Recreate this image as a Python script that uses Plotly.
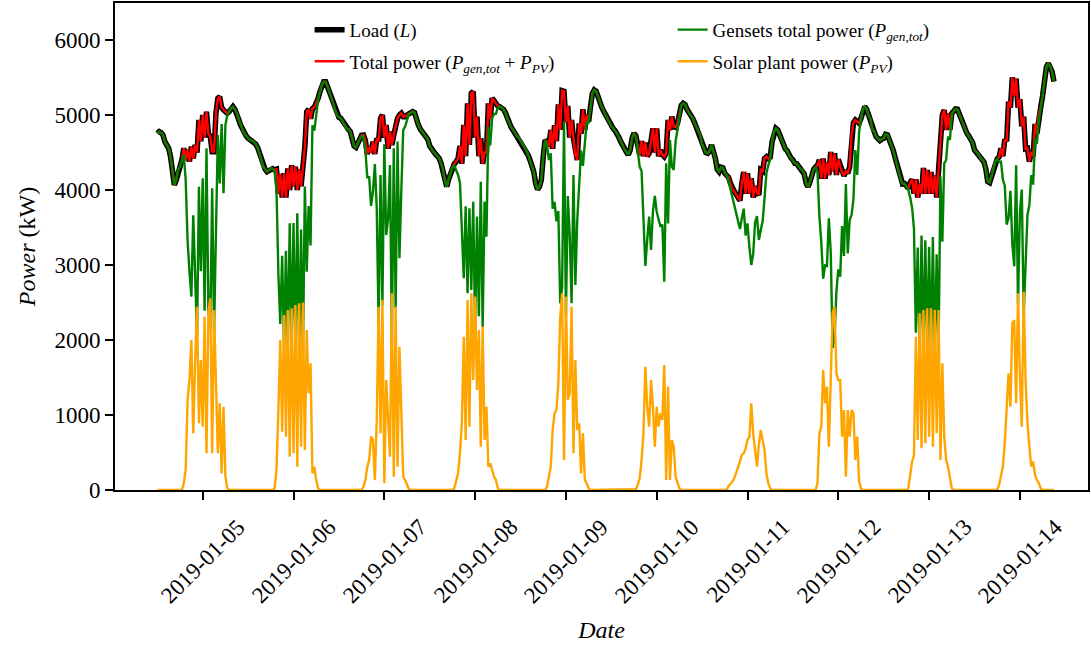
import pandas as pd
import plotly.graph_objects as go

# ---- data (30-minute samples, starting 2019-01-04 12:00) ----
START = "2019-01-04 12:00"
STEP = "30min"

LOAD = [
    4756, 4778, 4765, 4733, 4644, 4600, 4556, 4444, 4267, 4067, 4133, 4267, 4311, 4400, 4556, 4400, 4533, 4380, 4578, 4420, 4600, 4500, 4933, 4650,
    5000, 4700, 5044, 4750, 4711, 4511, 4511, 5022, 5222, 5244, 5100, 5067, 5044, 5022, 5044, 5089, 5111, 5076, 5022, 4942, 4867, 4809, 4756, 4720,
    4689, 4667, 4658, 4644, 4613, 4569, 4489, 4409, 4311, 4276, 4244, 4258, 4289, 4284, 4267, 4276, 3950, 4213, 3900, 4222, 3900, 4289, 4000, 4329,
    4050, 4311, 4000, 4276, 4050, 4311, 4578, 5044, 5076, 4950, 5084, 5102, 5156, 5222, 5311, 5400, 5444, 5444, 5378, 5311, 5222, 5156, 5067, 5000,
    4970, 4956, 4911, 4867, 4822, 4809, 4778, 4689, 4587, 4569, 4631, 4680, 4729, 4733, 4658, 4480, 4569, 4500, 4644, 4480, 4689, 4650, 4956, 5000,
    4700, 4867, 4550, 4778, 4600, 4733, 4867, 4956, 5000, 5022, 4978, 4978, 5000, 5022, 5031, 5044, 5031, 4933, 4867, 4813, 4778, 4747, 4720, 4676,
    4587, 4542, 4507, 4480, 4453, 4422, 4356, 4267, 4133, 4044, 4142, 4231, 4302, 4347, 4378, 4422, 4587, 4350, 4867, 4450, 5156, 4600, 5289, 5311,
    4700, 4978, 4450, 4689, 4350, 4511, 4489, 5156, 4950, 5222, 5191, 5147, 5120, 5111, 5102, 5076, 5031, 4956, 4889, 4840, 4800, 4760, 4720, 4700,
    4660, 4620, 4580, 4530, 4467, 4400, 4320, 4244, 4089, 4009, 4044, 4133, 4444, 4667, 4644, 4578, 4800, 4550, 4862, 4650, 5142, 4800, 5324, 5316,
    4900, 5120, 4700, 4933, 4689, 4467, 4400, 4889, 4750, 5076, 4800, 5000, 4911, 5111, 5289, 5333, 5316, 5244, 5156, 5102, 5049, 4996, 4942, 4889,
    4853, 4818, 4791, 4756, 4702, 4644, 4587, 4542, 4507, 4471, 4533, 4689, 4756, 4720, 4578, 4467, 4653, 4450, 4631, 4450, 4489, 4667, 4822, 4500,
    4822, 4450, 4533, 4471, 4444, 4489, 4933, 4800, 4978, 4844, 4836, 4889, 5022, 5129, 5156, 5138, 5076, 5040, 5005, 4956, 4898, 4831, 4778, 4725,
    4613, 4556, 4498, 4489, 4524, 4600, 4524, 4422, 4276, 4244, 4302, 4293, 4222, 4200, 4169, 4089, 4018, 3982, 3942, 3911, 3858, 4089, 4240, 3950,
    4222, 3950, 4156, 3900, 4053, 3964, 3933, 4267, 4250, 4422, 4444, 4418, 4436, 4644, 4778, 4822, 4800, 4733, 4658, 4613, 4547, 4520, 4462, 4427,
    4400, 4356, 4351, 4320, 4280, 4267, 4213, 4089, 4044, 4107, 4200, 4276, 4307, 4329, 4400, 4150, 4418, 4150, 4364, 4200, 4507, 4250, 4489, 4200,
    4409, 4311, 4231, 4187, 4258, 4222, 4311, 4733, 4898, 4933, 4911, 4889, 4956, 5076, 5111, 5076, 4996, 4942, 4809, 4778, 4711, 4680, 4660, 4680,
    4689, 4742, 4733, 4667, 4609, 4533, 4436, 4333, 4222, 4142, 4080, 4085, 4045, 4022, 4098, 4142, 3950, 4142, 3900, 4080, 3950, 4294, 3950, 4267,
    3950, 4240, 3950, 4196, 3900, 4245, 4578, 5000, 5067, 4800, 5022, 4800, 5022, 5054, 5080, 5076, 5009, 4934, 4880, 4809, 4756, 4720, 4676, 4632,
    4534, 4507, 4480, 4436, 4409, 4374, 4280, 4112, 4098, 4187, 4289, 4378, 4414, 4440, 4556, 4450, 4676, 4650, 5178, 5100, 5502, 5250, 5485, 5100,
    5209, 4850, 4978, 4550, 4556, 4378, 4511, 4450, 4880, 4750, 5014, 5103, 5254, 5489, 5636, 5689, 5645, 5578, 5445,
]

# Solar plant output, daylight hours only (sample index where each day starts, values)
PV_JAN05 = (14, [89, 267, 1200, 1467, 2000, 756, 1733, 2444, 889, 1733, 844, 2311, 489, 2356, 2556, 489, 2400, 1467, 489, 1156, 222, 1111, 178, 22])
PV_JAN06 = (62, [22, 267, 1067, 2000, 778, 2333, 711, 2400, 444, 2422, 489, 2467, 311, 2489, 578, 2498, 533, 2133, 1289, 1689, 222, 311, 133, 22])
PV_JAN07 = (109, [44, 133, 311, 400, 711, 667, 133, 933, 2444, 756, 2533, 89, 1467, 933, 444, 2622, 178, 2444, 311, 1911, 1022, 178, 133, 67, 9])
PV_JAN08 = (157, [22, 111, 222, 489, 889, 2044, 667, 2533, 844, 2622, 1467, 2578, 1333, 2133, 578, 2178, 667, 1111, 311, 356, 267, 178, 133, 22])
PV_JAN09 = (206, [44, 178, 311, 800, 1022, 1067, 1422, 2311, 2622, 400, 2578, 1200, 1289, 2444, 489, 1733, 800, 889, 222, 756, 133, 89, 22])
PV_JAN10 = (253, [9, 67, 156, 400, 756, 1644, 1111, 844, 1467, 1111, 578, 1111, 844, 1022, 933, 1667, 133, 1378, 133, 667, 578, 178, 89, 22])
PV_JAN11 = (302, [53, 80, 111, 156, 222, 311, 378, 467, 489, 556, 667, 711, 1156, 756, 489, 311, 600, 800, 667, 533, 222, 89, 22])
PV_JAN12 = (349, [89, 756, 844, 1600, 1156, 1378, 578, 1333, 2356, 2444, 1556, 1467, 1467, 711, 1067, 178, 1067, 711, 1067, 1022, 400, 711, 111, 22])
PV_JAN13 = (397, [22, 200, 378, 467, 2044, 667, 2356, 556, 2400, 622, 2422, 711, 2422, 578, 2400, 756, 2400, 400, 1689, 711, 400, 311, 133, 22])
PV_JAN14 = (445, [67, 178, 311, 622, 1111, 1556, 1111, 2222, 2267, 1156, 2622, 1511, 844, 2644, 1467, 889, 578, 311, 378, 200, 133, 89, 22])

DAY_TICKS = ["2019-01-05", "2019-01-06", "2019-01-07", "2019-01-08", "2019-01-09",
             "2019-01-10", "2019-01-11", "2019-01-12", "2019-01-13", "2019-01-14"]
Y_TICKS = [0, 1000, 2000, 3000, 4000, 5000, 6000]

# ---- build series ----
times = pd.date_range(START, periods=len(LOAD), freq=STEP)
pv = [0] * len(LOAD)
for start, vals in (PV_JAN05, PV_JAN06, PV_JAN07, PV_JAN08, PV_JAN09,
                    PV_JAN10, PV_JAN11, PV_JAN12, PV_JAN13, PV_JAN14):
    for i, v in enumerate(vals):
        pv[start + i] = v
gensets = [l - p for l, p in zip(LOAD, pv)]          # P_gen,tot = L - P_PV
total = [g + p for g, p in zip(gensets, pv)]          # P_gen,tot + P_PV

FONT = "Liberation Serif"

fig = go.Figure()
fig.add_trace(go.Scatter(x=times, y=LOAD, mode="lines", name="Load (<i>L</i>)",
                         line=dict(color="black", width=5.5), legend="legend"))
fig.add_trace(go.Scatter(x=times, y=total, mode="lines",
                         name="Total power (<i>P<sub>gen,tot</sub></i> + <i>P<sub>PV</sub></i>)",
                         line=dict(color="#ff0000", width=2.4), legend="legend2"))
fig.add_trace(go.Scatter(x=times, y=gensets, mode="lines",
                         name="Gensets total power (<i>P<sub>gen,tot</sub></i>)",
                         line=dict(color="#008000", width=2.4), legend="legend"))
fig.add_trace(go.Scatter(x=times, y=pv, mode="lines",
                         name="Solar plant power (<i>P<sub>PV</sub></i>)",
                         line=dict(color="#ffa500", width=2.4), legend="legend2"))

leg_common = dict(orientation="h", xanchor="left", yanchor="top", entrywidth=318,
                  entrywidthmode="pixels", bgcolor="rgba(0,0,0,0)",
                  font=dict(family=FONT, size=19, color="black"))
fig.update_layout(
    legend=dict(x=0.200, y=0.984, **leg_common),
    legend2=dict(x=0.200, y=0.919, **leg_common),
)

for d in DAY_TICKS:
    fig.add_annotation(x=d, y=-0.146, xref="x", yref="paper", text=d, showarrow=False,
                       textangle=-45, xanchor="center", yanchor="middle",
                       font=dict(family=FONT, size=23, color="black"))

fig.update_xaxes(
    type="date",
    range=["2019-01-04 00:49", "2019-01-14 18:00"],
    tickvals=DAY_TICKS, showticklabels=False,
    ticks="outside", ticklen=8, tickwidth=1.5, tickcolor="black",
    showline=True, linecolor="black", linewidth=1.6, mirror=True,
    showgrid=False, zeroline=False,
    title=dict(text="<i>Date</i>", font=dict(family=FONT, size=24, color="black"), standoff=122),
)
fig.update_yaxes(
    range=[0, 6493], tickvals=Y_TICKS,
    ticks="outside", ticklen=8, tickwidth=1.5, tickcolor="black",
    tickfont=dict(family=FONT, size=23, color="black"),
    showline=True, linecolor="black", linewidth=1.6, mirror=True,
    showgrid=False, zeroline=False,
    title=dict(text="<i>Power</i> (kW)", font=dict(family=FONT, size=24, color="black"), standoff=12),
)
fig.update_layout(
    width=1091, height=645,
    margin=dict(l=115, r=3, t=3, b=155, autoexpand=False),
    paper_bgcolor="white", plot_bgcolor="white",
    font=dict(family=FONT, color="black"),
)

fig.write_html("out.html", config={"displayModeBar": False},
               post_script="document.body.style.margin='0';document.body.style.overflow='hidden';")
